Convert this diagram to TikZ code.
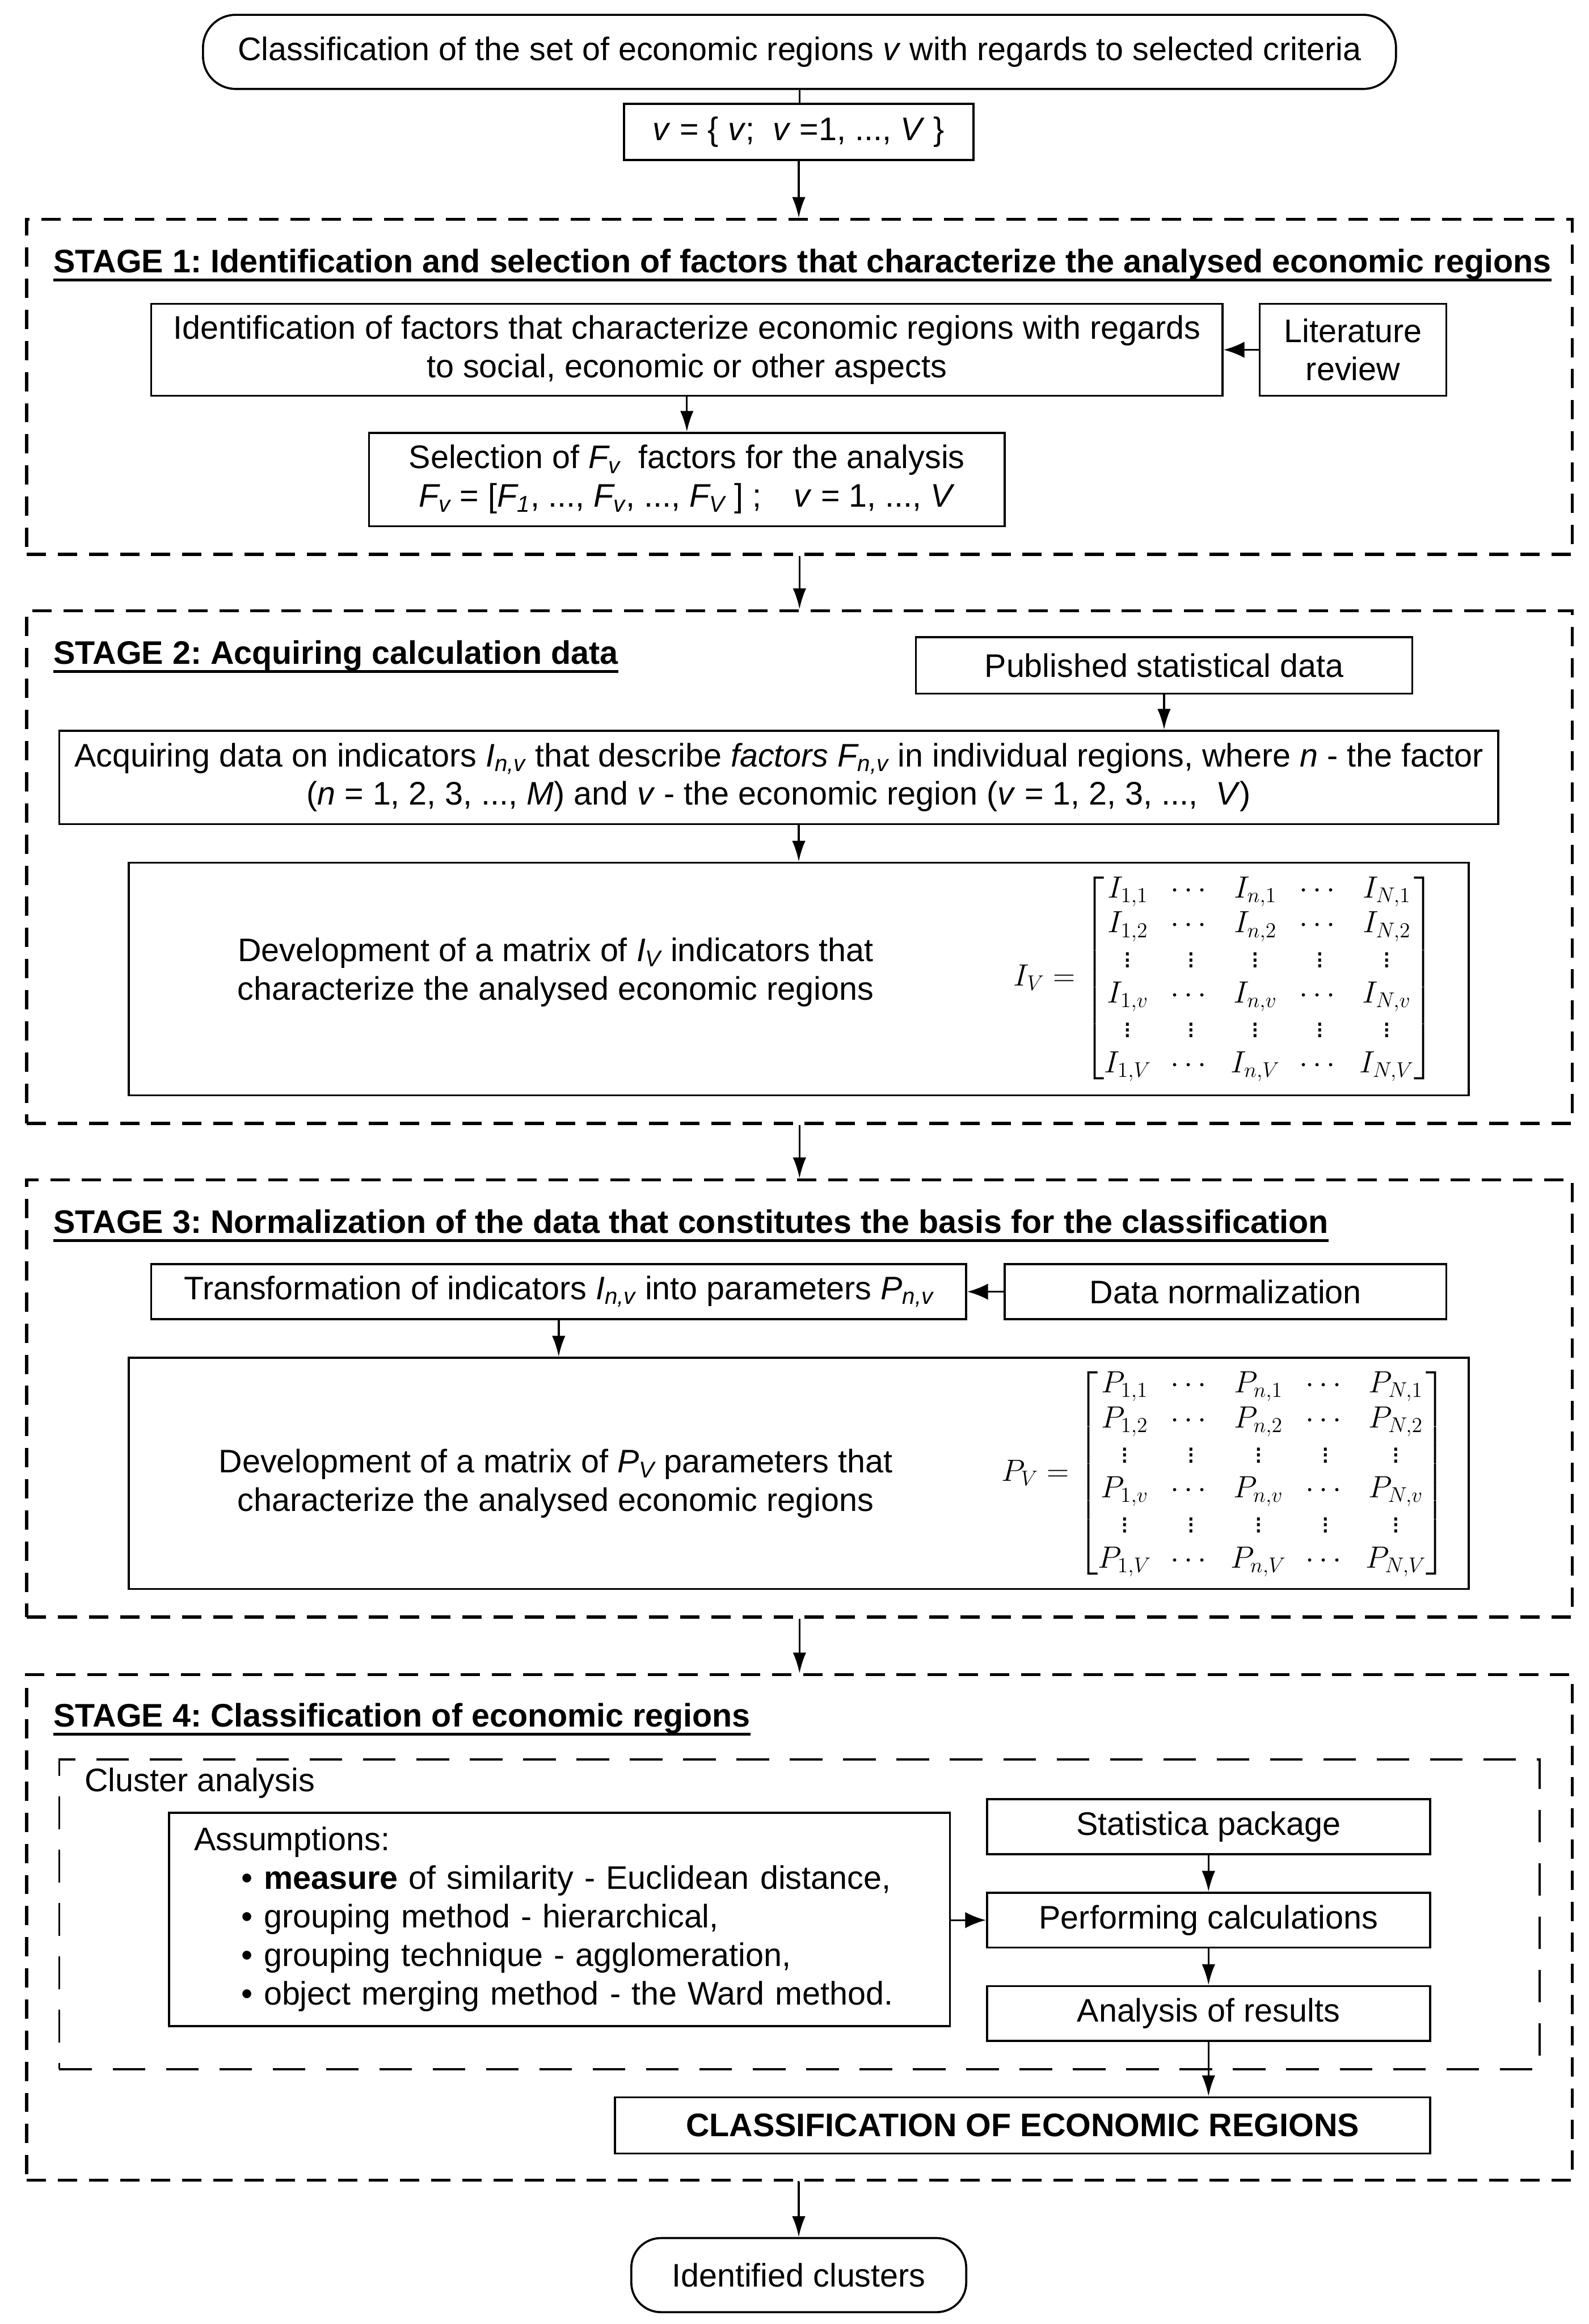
\documentclass[tikz,border=0pt]{standalone}
\usepackage{amsmath}
\usepackage{fontspec}
\setmainfont{Liberation Sans}
\usetikzlibrary{arrows.meta}
\frenchspacing
\begin{document}
\begin{tikzpicture}[x=1pt,y=-1pt,
  font=\fontsize{22}{26}\selectfont,
  box/.style={draw, line width=1.4pt, inner sep=0pt, align=center},
  stagebox/.style={draw, line width=2pt, dash pattern=on 13pt off 8pt},
  clusterbox/.style={draw, line width=1.4pt, dash pattern=on 22pt off 14pt},
  arr/.style={-{Latex[length=14pt,width=9pt]}, line width=1.3pt},
  sarr/.style={-{Latex[length=14pt,width=11pt]}, line width=1.3pt},
  stitle/.style={anchor=base west, inner sep=0pt, font=\fontsize{22}{26}\selectfont\bfseries},
  uline/.style={line width=1.8pt},
  mat/.style={inner sep=0pt, font=\fontsize{20}{23.6}\selectfont}]
\useasboundingbox (0,0) rectangle (1072,1568);

% top
\node[box, rounded corners=22pt, minimum width=805pt, minimum height=50pt] (top) at (539.5,35)
  {Classification of the set of economic regions \textit{v} with regards to selected criteria};
\node[box, minimum width=236pt, minimum height=38pt] (vset) at (539,89)
  {\textit{v} = \{ \textit{v};\ \ \textit{v} =1, ..., \textit{V} \}};
\draw[line width=1.3pt] (top.south) -- (top.south |- vset.north);

% STAGE 1
\node[stagebox, minimum width=1043pt, minimum height=226pt] (stage1) at (539.5,261) {};
\node[stitle] (t1) at (36,184) {STAGE 1: Identification and selection of factors that characterize the analysed economic regions};
\draw[uline] ([yshift=-5pt]t1.base west) -- ([yshift=-5pt]t1.base east);
\node[box, minimum width=723pt, minimum height=62pt] (ident) at (463.5,236)
  {Identification of factors that characterize economic regions with regards\\ to social, economic or other aspects};
\node[box, minimum width=126pt, minimum height=62pt] (lit) at (913,236) {Literature\\review};
\node[box, minimum width=429pt, minimum height=63pt] (sel) at (463.5,323.5)
  {Selection of \textit{F\textsubscript{v}}\ \ factors for the analysis\\
   \textit{F\textsubscript{v}} = [\textit{F\textsubscript{1}}, ..., \textit{F\textsubscript{v}}, ..., \textit{F\textsubscript{V}} ] ;\quad\textit{v} = 1, ..., \textit{V}};
\draw[sarr] (lit.west) -- (ident.east);
\draw[arr] (ident.south) -- (sel.north);
\draw[arr] (vset.south) -- (vset.south |- stage1.north);

% STAGE 2
\node[stagebox, minimum width=1043pt, minimum height=346pt] (stage2) at (539.5,585) {};
\node[stitle] (t2) at (36,448) {STAGE 2: Acquiring calculation data};
\draw[uline] ([yshift=-5pt]t2.base west) -- ([yshift=-5pt]t2.base east);
\node[box, minimum width=335pt, minimum height=38pt] (pub) at (785.5,449) {Published statistical data};
\node[box, minimum width=971pt, minimum height=63pt] (acq) at (525.5,524.5)
  {Acquiring data on indicators \textit{I\textsubscript{n,v}} that describe \textit{factors F\textsubscript{n,v}} in individual regions, where \textit{n} - the factor\\
   (\textit{n} = 1, 2, 3, ..., \textit{M}) and \textit{v} - the economic region (\textit{v} = 1, 2, 3, ..., \ \textit{V})};
\node[box, minimum width=904pt, minimum height=157pt] (mat1) at (539,660.5) {};
\node[align=center, inner sep=0pt] (mat1txt) at (375,656)
  {Development of a matrix of \textit{I\textsubscript{V}} indicators that\\characterize the analysed economic regions};
\node[mat] (mat1m) at (826,660)
  {\renewcommand{\arraystretch}{1}\setlength{\arraycolsep}{6.5pt}%
   $I_V = \begin{bmatrix}
   I_{1,1} & \cdots & I_{n,1} & \cdots & I_{N,1}\\
   I_{1,2} & \cdots & I_{n,2} & \cdots & I_{N,2}\\
   \vdots & \vdots & \vdots & \vdots & \vdots\\
   I_{1,v} & \cdots & I_{n,v} & \cdots & I_{N,v}\\
   \vdots & \vdots & \vdots & \vdots & \vdots\\
   I_{1,V} & \cdots & I_{n,V} & \cdots & I_{N,V}
   \end{bmatrix}$};
\draw[arr] (pub.south) -- (pub.south |- acq.north);
\draw[arr] (mat1.north |- acq.south) -- (mat1.north);
\draw[arr] (stage1.south) -- (stage2.north);

% STAGE 3
\node[stagebox, minimum width=1043pt, minimum height=295pt] (stage3) at (539.5,943.5) {};
\node[stitle] (t3) at (36,832) {STAGE 3: Normalization of the data that constitutes the basis for the classification};
\draw[uline] ([yshift=-5pt]t3.base west) -- ([yshift=-5pt]t3.base east);
\node[box, minimum width=550pt, minimum height=37pt] (trans) at (377,871.5)
  {Transformation of indicators \textit{I\textsubscript{n,v}} into parameters \textit{P\textsubscript{n,v}}};
\node[box, minimum width=298pt, minimum height=37pt] (dnorm) at (827,871.5) {Data normalization};
\node[box, minimum width=904pt, minimum height=156pt] (mat2) at (539,994) {};
\node[align=center, inner sep=0pt] (mat2txt) at (375,1001)
  {Development of a matrix of \textit{P\textsubscript{V}} parameters that\\characterize the analysed economic regions};
\node[mat] (mat2m) at (826,994)
  {\renewcommand{\arraystretch}{1}\setlength{\arraycolsep}{6.5pt}%
   $P_V = \begin{bmatrix}
   P_{1,1} & \cdots & P_{n,1} & \cdots & P_{N,1}\\
   P_{1,2} & \cdots & P_{n,2} & \cdots & P_{N,2}\\
   \vdots & \vdots & \vdots & \vdots & \vdots\\
   P_{1,v} & \cdots & P_{n,v} & \cdots & P_{N,v}\\
   \vdots & \vdots & \vdots & \vdots & \vdots\\
   P_{1,V} & \cdots & P_{n,V} & \cdots & P_{N,V}
   \end{bmatrix}$};
\draw[sarr] (dnorm.west) -- (trans.east);
\draw[arr] (trans.south) -- (trans.south |- mat2.north);
\draw[arr] (stage2.south) -- (stage3.north);

% STAGE 4
\node[stagebox, minimum width=1043pt, minimum height=341pt] (stage4) at (539.5,1300.5) {};
\node[stitle] (t4) at (36,1165) {STAGE 4: Classification of economic regions};
\draw[uline] ([yshift=-5pt]t4.base west) -- ([yshift=-5pt]t4.base east);
\node[clusterbox, minimum width=999pt, minimum height=209pt] (cluster) at (539.5,1291.5) {};
\node[anchor=west, inner sep=0pt] (clabel) at (57,1203) {Cluster analysis};
\node[box, minimum width=527pt, minimum height=144pt, text width=493pt, align=left] (assum) at (377.5,1295)
  {Assumptions:\\
   \hspace*{32pt}• \textbf{measure} of similarity - Euclidean distance,\\
   \hspace*{32pt}• grouping method - hierarchical,\\
   \hspace*{32pt}• grouping technique - agglomeration,\\
   \hspace*{32pt}• object merging method - the Ward method.};
\node[box, minimum width=299pt, minimum height=37pt] (stat) at (815.5,1232.5) {Statistica package};
\node[box, minimum width=299pt, minimum height=37pt] (perf) at (815.5,1295.5) {Performing calculations};
\node[box, minimum width=299pt, minimum height=37pt] (anal) at (815.5,1358.5) {Analysis of results};
\node[box, minimum width=550pt, minimum height=38pt] (cls) at (690,1434) {\textbf{CLASSIFICATION OF ECONOMIC REGIONS}};
\draw[sarr] (assum.east |- perf.west) -- (perf.west);
\draw[arr] (stat.south) -- (perf.north);
\draw[arr] (perf.south) -- (anal.north);
\draw[arr] (anal.south) -- (anal.south |- cls.north);
\draw[arr] (stage3.south) -- (stage4.north);

% end
\node[box, rounded corners=20pt, minimum width=226pt, minimum height=50pt] (clusters) at (539,1535) {Identified clusters};
\draw[arr] (stage4.south) -- (stage4.south -| clusters.north) -- (clusters.north);
\end{tikzpicture}
\end{document}
